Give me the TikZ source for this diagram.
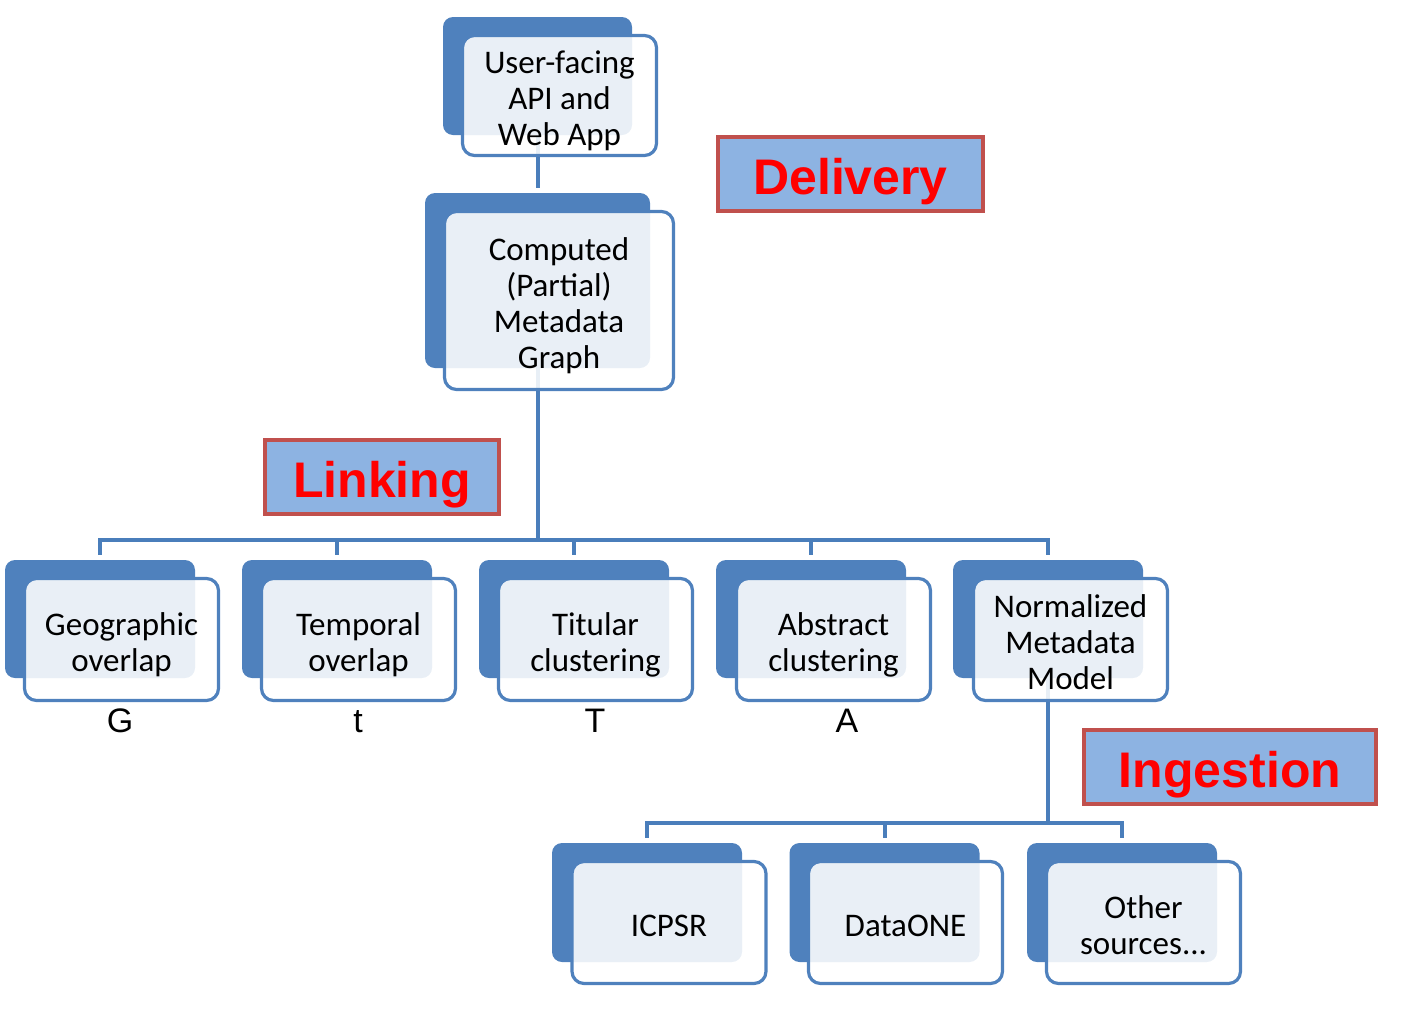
\documentclass[tikz,border=0pt]{standalone}
\usepackage{fontspec}
\newfontfamily\calib{Carlito}
\newfontfamily\arialf{Liberation Sans}
\definecolor{backblue}{HTML}{4F81BD}
\definecolor{lineblue}{HTML}{4A7EBB}
\definecolor{lblfill}{HTML}{8DB3E2}
\definecolor{lbldraw}{HTML}{C0504D}
\newcommand{\bt}[1]{\raisebox{-13pt}[0pt][0pt]{\begin{tabular}{@{}c@{}}#1\end{tabular}}}
\tikzset{
  backbox/.style={fill=backblue, rounded corners=10pt, inner sep=0pt, minimum width=190pt, minimum height=118pt},
  frontbox/.style={draw=backblue, line width=3.2pt, fill=white, fill opacity=0.88, text opacity=1,
     rounded corners=12pt, inner sep=0pt, minimum width=194pt, minimum height=122pt,
     font=\calib\fontsize{33}{36}\selectfont},
  conn/.style={draw=lineblue, line width=4pt},
  lblbox/.style={draw=lbldraw, line width=4pt, fill=lblfill, minimum height=74pt, inner sep=0pt,
     text height=40pt, text depth=0pt,
     text=red, font=\arialf\bfseries\fontsize{50}{50}\selectfont},
  letter/.style={anchor=base, inner sep=0pt, font=\arialf\fontsize{34}{34}\selectfont}
}
\begin{document}
\begin{tikzpicture}[x=1pt,y=-1pt]
\useasboundingbox (0,0) rectangle (1405,1023);
% back boxes
\node[backbox, minimum width=189pt] (bA) at (537.5,76) {};
\node[backbox, minimum width=225pt, minimum height=175pt] (bB) at (537.5,280.5) {};
\node[backbox] (bG) at (100,619) {};
\node[backbox] (bT) at (337,619) {};
\node[backbox] (bTi) at (574,619) {};
\node[backbox] (bAb) at (811,619) {};
\node[backbox] (bN) at (1048,619) {};
\node[backbox, minimum height=119pt] (bI) at (647,902.5) {};
\node[backbox, minimum height=119pt] (bD) at (884.5,902.5) {};
\node[backbox, minimum height=119pt] (bO) at (1122,902.5) {};
% connectors
\coordinate (bus1) at (537.5,540);
\coordinate (bus2) at (1049,822.5);
\draw[conn, shorten >=5pt] (bA.south) -- (bB.north);
\foreach \c in {bG,bT,bTi,bAb,bN}{
  \draw[conn, shorten >=5pt] (bB.south) -- (bB.south |- bus1) -| (\c.north);
}
\foreach \c in {bI,bD,bO}{
  \draw[conn, shorten >=5pt] (bN.south) -- (bN.south |- bus2) -| (\c.north);
}
% front boxes
\node[frontbox, minimum height=120pt] (fA) at (559.5,95.5) {\bt{User-facing\\API and\\Web App}};
\node[frontbox, minimum width=229pt, minimum height=178pt] (fB) at (559,300.5) {\bt{Computed\\(Partial)\\Metadata\\Graph}};
\node[frontbox] (fG) at (121.5,639.5) {\bt{Geographic\\overlap}};
\node[frontbox] (fT) at (358.5,639.5) {\bt{Temporal\\overlap}};
\node[frontbox] (fTi) at (595.5,639.5) {\bt{Titular\\clustering}};
\node[frontbox] (fAb) at (833.5,639.5) {\bt{Abstract\\clustering}};
\node[frontbox] (fN) at (1070.5,639.5) {\bt{Normalized\\Metadata\\Model}};
\node[frontbox] (fI) at (669,922.5) {\bt{ICPSR}};
\node[frontbox] (fD) at (905.5,922.5) {\bt{DataONE}};
\node[frontbox] (fO) at (1143.5,922.5) {\bt{Other\\sources...}};
% letters
\node[letter] (lG) at (120,732) {G};
\node[letter] (lt) at (358,732) {t};
\node[letter] (lT) at (595,732) {T};
\node[letter] (lA) at (847,732) {A};
% phase labels
\node[lblbox, minimum width=265pt] (delivery) at (850.5,174) {Delivery};
\node[lblbox, minimum width=234pt] (linking) at (382,477) {Linking};
\node[lblbox, minimum width=292pt] (ingestion) at (1230,767) {Ingestion};
\end{tikzpicture}
\end{document}
